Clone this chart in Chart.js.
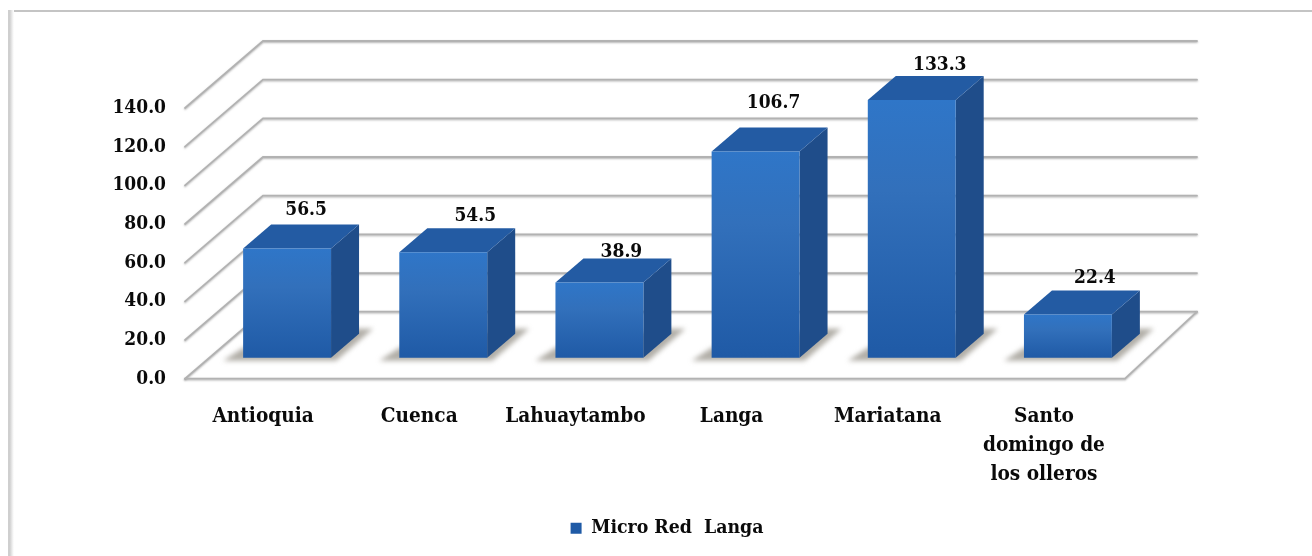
<!DOCTYPE html>
<html>
<head>
<meta charset="utf-8">
<style>
html,body{margin:0;padding:0;background:#fff;}
#wrap{position:relative;width:1312px;height:556px;overflow:hidden;}
#ftop{position:absolute;left:8px;top:10px;width:1304px;height:2px;background:#c4c4c4;}
#fleft{position:absolute;left:8px;top:10px;width:6px;height:546px;background:linear-gradient(to right,#cfcfcf,#cfcfcf 30%,#f4f4f4 80%,#fff);}
canvas{position:absolute;left:0;top:0;filter:blur(0.5px);}
</style>
<script src="https://cdn.jsdelivr.net/npm/chart.js@4/dist/chart.umd.min.js"></script>
</head>
<body>
<div id="wrap"><div id="ftop"></div><div id="fleft"></div><canvas id="c" width="1312" height="556"></canvas></div>
<script>
const categories = ["Antioquia","Cuenca","Lahuaytambo","Langa","Mariatana",["Santo","domingo de","los olleros"]];
const seriesName = "Micro Red  Langa";
const values = [56.5,54.5,38.9,106.7,133.3,22.4];
const valueLabels = ["56.5","54.5","38.9","106.7","133.3","22.4"];

// perspective / style constants
const FONT = '"DejaVu Serif Condensed"';
const WALL = {dx:78, dy:-67, rightEnd:1197, floorRight:1125};
const BAR_SHIFT = {dx:24, dy:-21};
const BAR_DEPTH = {dx:28, dy:-24};
const labelNudgeX = [19,32,22,18,28,27];
const labelNudgeY = [-38,-36,-30,-48,-35,-36];

const threeD = {
  id:'threeD',
  beforeDatasetsDraw(chart){
    const {ctx, chartArea:a, scales:{y}} = chart;
    ctx.save();
    ctx.lineCap='round';
    ctx.strokeStyle='#b2b2b2';
    ctx.lineWidth=1.8;
    ctx.shadowColor='rgba(120,120,120,0.55)';
    ctx.shadowBlur=2;
    ctx.shadowOffsetY=1;
    y.ticks.forEach(t=>{
      const py=y.getPixelForValue(t.value);
      ctx.beginPath();
      ctx.moveTo(a.left,py);
      ctx.lineTo(a.left+WALL.dx,py+WALL.dy);
      ctx.lineTo(WALL.rightEnd,py+WALL.dy);
      ctx.stroke();
    });
    const py0=y.getPixelForValue(0);
    ctx.beginPath();
    ctx.moveTo(a.left,py0);
    ctx.lineTo(WALL.floorRight,py0);
    ctx.lineTo(WALL.rightEnd,py0+WALL.dy);
    ctx.stroke();
    ctx.restore();
    // soft floor shadows below the bars
    ctx.save();
    ctx.filter='blur(2.5px)';
    ctx.fillStyle='rgba(135,130,120,0.65)';
    chart.getDatasetMeta(0).data.forEach(b=>{
      const x0=b.x-b.width/2+BAR_SHIFT.dx, x1=b.x+b.width/2+BAR_SHIFT.dx, base=b.base+BAR_SHIFT.dy;
      ctx.beginPath();
      ctx.moveTo(x0-20,base+3);
      ctx.lineTo(x1+5,base+3);
      ctx.lineTo(x1+42,base-29);
      ctx.lineTo(x1+20,base-29);
      ctx.lineTo(x0,base-10);
      ctx.closePath();
      ctx.fill();
    });
    ctx.restore();
  },
  beforeDatasetDraw(chart){
    const ctx=chart.ctx;
    ctx.save();
    ctx.translate(BAR_SHIFT.dx,BAR_SHIFT.dy);
    chart.getDatasetMeta(0).data.forEach(b=>{
      const x0=b.x-b.width/2, x1=b.x+b.width/2, top=b.y, base=b.base;
      const d=BAR_DEPTH;
      ctx.fillStyle='#1f4d8a';
      ctx.beginPath();
      ctx.moveTo(x1,top);ctx.lineTo(x1+d.dx,top+d.dy);ctx.lineTo(x1+d.dx,base+d.dy);ctx.lineTo(x1,base);
      ctx.closePath();ctx.fill();
      ctx.fillStyle='#235ba3';
      ctx.beginPath();
      ctx.moveTo(x0,top);ctx.lineTo(x0+d.dx,top+d.dy);ctx.lineTo(x1+d.dx,top+d.dy);ctx.lineTo(x1,top);
      ctx.closePath();ctx.fill();
    });
  },
  afterDatasetDraw(chart){
    chart.ctx.restore();
  },
  afterDatasetsDraw(chart){
    const ctx=chart.ctx;
    ctx.save();
    ctx.font='bold 19px '+FONT;
    ctx.fillStyle='#0a0a0a';
    ctx.textAlign='center';
    ctx.textBaseline='middle';
    chart.getDatasetMeta(0).data.forEach((b,i)=>{
      ctx.fillText(valueLabels[i], b.x+BAR_SHIFT.dx+labelNudgeX[i], b.y+BAR_SHIFT.dy+labelNudgeY[i]);
    });
    ctx.restore();
  }
};

new Chart(document.getElementById('c'),{
  type:'bar',
  data:{labels:categories,datasets:[{
    label:seriesName,
    data:values,
    categoryPercentage:0.563,
    barPercentage:1,
    clip:false,
    borderWidth:0,
    backgroundColor(c){
      if(c.type!=='data') return '#3a6fb5';
      const y=c.chart.scales.y, top=y.getPixelForValue(c.raw), base=y.getPixelForValue(0);
      if(!isFinite(top)||!isFinite(base)) return '#3271bd';
      const g=c.chart.ctx.createLinearGradient(0,top,0,base);
      g.addColorStop(0,'#2f76c8');
      g.addColorStop(0.35,'#3270bb');
      g.addColorStop(1,'#1f5aa6');
      return g;
    }
  }]},
  plugins:[threeD],
  options:{
    responsive:false,
    animation:false,
    events:[],
    layout:{padding:{top:108,bottom:8,left:22,right:0}},
    plugins:{
      tooltip:{enabled:false},
      legend:{position:'bottom',labels:{
        boxWidth:11,boxHeight:11,padding:10,color:'#0a0a0a',
        font:{family:FONT,weight:'bold',size:19.3}
      }}
    },
    scales:{
      x:{
        grid:{display:false},border:{display:false},
        afterFit(s){s.height=130;},
        ticks:{color:'#0a0a0a',maxRotation:0,autoSkip:false,padding:15,font:{family:FONT,weight:'bold',size:20.6,lineHeight:1.42}}
      },
      y:{
        min:0,max:140,
        grid:{display:false},border:{display:false},
        afterFit(s){s.width=163;},
        ticks:{stepSize:20,color:'#0a0a0a',padding:11,font:{family:FONT,weight:'bold',size:19},callback:v=>v.toFixed(1)}
      },
      spacer:{
        position:'right',display:true,
        grid:{display:false},border:{display:false},
        afterFit(s){s.width=190;},
        ticks:{display:false}
      }
    }
  }
});
</script>
</body>
</html>
